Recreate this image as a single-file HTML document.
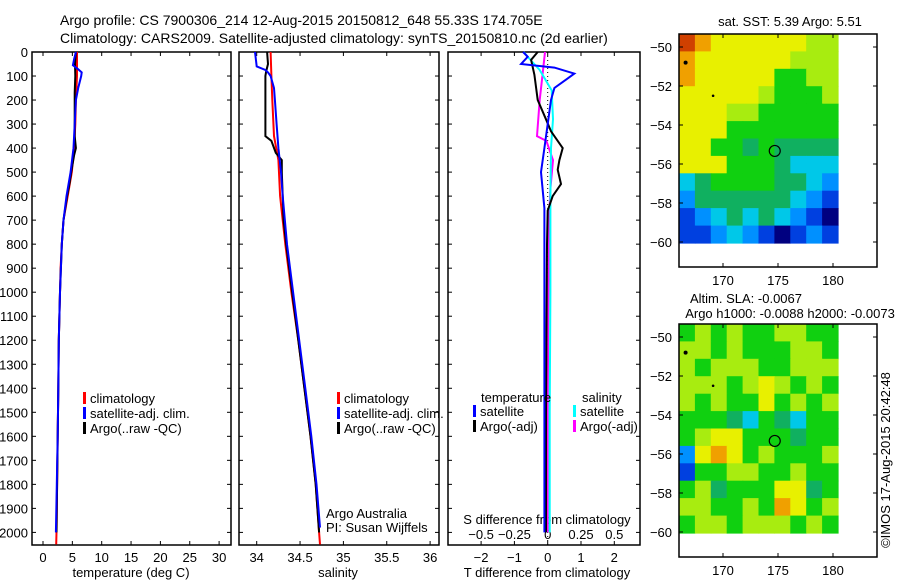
<!DOCTYPE html>
<html><head><meta charset="utf-8"><style>
html,body{margin:0;padding:0;background:#fff;}
svg{display:block;font-family:"Liberation Sans",sans-serif;}
text{font-size:13px;fill:#000;}
</style></head><body>
<svg id="fig" width="900" height="580" viewBox="0 0 900 580" xmlns="http://www.w3.org/2000/svg">
<text x="60" y="25" style="font-size:14px">Argo profile: CS 7900306_214 12-Aug-2015 20150812_648 55.33S 174.705E</text>
<text x="60" y="43" style="font-size:14px">Climatology: CARS2009. Satellite-adjusted climatology: synTS_20150810.nc (2d earlier)</text>
<g id="g"></g>
</svg>
<script>
// ---- profile data (depth in m) ----
const tClimD = [0,100,200,300,400,500,600,700,800,900,1000,1200,1400,1600,1800,2000,2050];
const tClimV = [5.8,5.8,5.6,5.5,5.3,4.9,4.2,3.5,3.2,3.0,2.9,2.7,2.6,2.5,2.4,2.3,2.25];
const tSatD = [0,30,55,70,85,100,150,200,300,400,500,600,700,800,1000,1200,1400,1600,1800,2000];
const tSatV = [5.6,5.3,5.1,5.9,6.6,6.5,6.0,5.6,5.4,5.2,4.7,4.0,3.5,3.2,2.9,2.7,2.6,2.5,2.35,2.2];
const tArgoD = [0,50,100,170,250,350,400,430,500,550,600,700,800,1000,1200,1400,1600,1800,2000];
const tArgoV = [5.6,5.45,5.5,5.4,5.4,5.4,5.6,5.3,4.8,4.5,4.1,3.5,3.2,2.9,2.7,2.6,2.5,2.4,2.3];
const sClimD = [0,100,200,350,450,600,800,1000,1200,1400,1600,1800,2000,2050];
const sClimV = [34.16,34.17,34.18,34.2,34.25,34.27,34.33,34.4,34.48,34.55,34.62,34.68,34.72,34.73];
const sSatD = [0,60,75,85,100,150,200,300,400,500,600,800,1000,1200,1400,1600,1800,1980];
const sSatV = [33.98,34.0,34.1,34.13,34.16,34.2,34.21,34.23,34.25,34.28,34.30,34.35,34.42,34.49,34.56,34.63,34.69,34.73];
const sArgoD = [0,50,80,100,350,370,420,450,500,600,700,800,1000,1200,1400,1600,1800,2000];
const sArgoV = [34.12,34.13,34.11,34.10,34.10,34.17,34.22,34.29,34.29,34.30,34.31,34.34,34.41,34.48,34.55,34.62,34.68,34.72];
// differences
const dTSatD = [0,20,50,65,90,110,150,200,300,400,500,650,1000,1500,2000];
const dTSatV = [-0.74,-0.6,-0.8,0.2,0.8,0.6,0.2,0.1,0.0,-0.1,-0.2,-0.1,-0.1,-0.1,-0.1];
const dTArgoD = [0,33,95,200,280,330,400,450,490,550,600,660,800,1000,1500,2000];
const dTArgoV = [-0.3,-0.5,-0.4,-0.3,-0.05,0.1,0.45,0.35,0.3,0.4,0.15,0.0,-0.02,-0.03,-0.05,-0.05];
const dSArgoD = [0,100,200,350,370,450,570,700,1000,1500,2000];
const dSArgoV = [-0.02,-0.04,-0.06,-0.08,-0.01,0.04,0.02,0.01,0.005,0.0,0.0];
const dSSatD = [0,33,75,160,280,400,600,1000,1500,2000];
const dSSatV = [-0.18,-0.13,-0.06,0.03,0.04,0.025,0.02,0.02,0.015,0.015];
// tick labels
const depthTicks = [0,100,200,300,400,500,600,700,800,900,1000,1100,1200,1300,1400,1500,1600,1700,1800,1900,2000];
const tTicks = [0,5,10,15,20,25,30];
const sTicks = [34,34.5,35,35.5,36];
const dTTicks = [-2,-1,0,1,2];
const dSTicks = [-0.5,-0.25,0,0.25,0.5];
const latTicks = [-50,-52,-54,-56,-58,-60];
const lonTicks = [170,175,180];
// map grids (colour class 0..9), rows north->south
const sstGrid = [
[9,8,7,7,7,7,7,7,6,6],[8,7,7,7,7,7,7,6,6,6],[8,7,7,7,7,7,5,5,6,6],[7,7,7,7,7,6,5,5,5,6],
[7,7,7,6,6,5,5,5,5,5],[7,7,7,5,5,5,5,5,5,5],[7,7,5,5,4,5,4,4,4,4],[7,7,7,5,5,5,4,3,3,3],
[3,4,5,5,5,5,4,4,3,2],[2,4,4,4,4,4,4,3,2,1],[1,2,3,4,3,4,3,2,1,0],[1,1,2,3,2,1,0,1,2,1]];
const slaGrid = [
[5,6,5,6,5,5,6,6,5,5],[6,6,5,6,5,5,5,6,6,5],[6,5,6,6,6,5,5,6,6,6],[6,6,6,5,6,7,6,5,6,5],
[6,5,6,5,5,7,5,6,5,6],[5,5,5,4,3,5,4,3,5,5],[5,6,7,7,5,5,5,4,5,5],[2,7,8,7,5,6,5,5,5,6],
[1,5,5,6,6,5,5,6,5,5],[5,6,4,5,5,5,7,7,4,5],[6,6,5,5,6,5,8,7,5,6],[5,6,6,5,6,6,6,5,6,5]];
const palette = ['#000080','#0040e0','#0090ff','#00c8e8','#10b060','#10d010','#a8ec10','#e8f000','#f0a000','#d04000'];
const argoLon = 174.705, argoLat = -55.33;

const NS='http://www.w3.org/2000/svg';
const G=document.getElementById('g');
function el(t,a,p){const e=document.createElementNS(NS,t);for(const k in a)e.setAttribute(k,a[k]);(p||G).appendChild(e);return e;}
function txt(x,y,s,anchor,size){const e=el('text',{x:x,y:y,'text-anchor':anchor||'start'});if(size)e.style.fontSize=size+'px';e.textContent=s;return e;}
const Y0=52,Y1=545;
const yD=d=>Y0+d*0.2402;
function panel(x0,x1,name){const r=el('rect',{x:x0,y:Y0,width:x1-x0,height:Y1-Y0,fill:'none',stroke:'#000','stroke-width':1.5});

}
function line(D,V,fx,color,name,w){const pts=D.map((d,i)=>fx(V[i]).toFixed(1)+','+yD(d).toFixed(1)).join(' ');
const p=el('polyline',{points:pts,fill:'none',stroke:color,'stroke-width':w||2});

}
function legend(x,y,color,label,name){const r=el('rect',{x:x,y:y-6,width:3,height:12,fill:color});


const t=txt(x+7,y+5,label);

}

// panel geometry
const xT=v=>43+v*5.87, xS=v=>256.7+(v-34)*86.7, xdT=v=>547.7+v*33.3, xdS=v=>547.7+v*4*33.3;
// depth axis labels
depthTicks.forEach(d=>{const t=txt(28,yD(d)+5,String(d),'end');


[32,239,448].forEach(x=>el('line',{x1:x,y1:yD(d),x2:x+4,y2:yD(d),stroke:'#000'}));
[231,439,640].forEach(x=>el('line',{x1:x,y1:yD(d),x2:x-4,y2:yD(d),stroke:'#000'}));});

// panel 1
panel(32,231,'temperature-panel');
tTicks.forEach(v=>{const x=xT(v);el('line',{x1:x,y1:Y1,x2:x,y2:Y1-4,stroke:'#000'});el('line',{x1:x,y1:Y0,x2:x,y2:Y0+4,stroke:'#000'});
const t=txt(x,562,String(v),'middle');

});
let t1=txt(131,577,'temperature (deg C)','middle');


line(tClimD,tClimV,xT,'#f00','temperature-climatology-line');
line(tArgoD,tArgoV,xT,'#000','temperature-argo-line');
line(tSatD,tSatV,xT,'#00f','temperature-satellite-line');
legend(83,398,'#f00','climatology','legend-climatology-t');
legend(83,413,'#00f','satellite-adj. clim.','legend-satellite-t');
legend(83,428,'#000','Argo(..raw -QC)','legend-argo-t');

// panel 2
panel(239,439,'salinity-panel');
sTicks.forEach(v=>{const x=xS(v);el('line',{x1:x,y1:Y1,x2:x,y2:Y1-4,stroke:'#000'});el('line',{x1:x,y1:Y0,x2:x,y2:Y0+4,stroke:'#000'});
const t=txt(x,562,String(v),'middle');

});
let t2=txt(338,577,'salinity','middle');


line(sClimD,sClimV,xS,'#f00','salinity-climatology-line');
line(sArgoD,sArgoV,xS,'#000','salinity-argo-line');
line(sSatD,sSatV,xS,'#00f','salinity-satellite-line');
legend(337,398,'#f00','climatology','legend-climatology-s');
legend(337,413,'#00f','satellite-adj. clim.','legend-satellite-s');
legend(337,428,'#000','Argo(..raw -QC)','legend-argo-s');
let a1=txt(326,518,'Argo Australia');
let a2=txt(326,532,'PI: Susan Wijffels');

// panel 3
panel(448,640,'difference-panel');
dTTicks.forEach(v=>{const x=xdT(v);el('line',{x1:x,y1:Y1,x2:x,y2:Y1-4,stroke:'#000'});el('line',{x1:x,y1:Y0,x2:x,y2:Y0+4,stroke:'#000'});
const t=txt(x,562,(v<0?'\u2212':'')+Math.abs(v),'middle');

});
dSTicks.forEach(v=>{const t=txt(xdS(v),539,(v<0?'\u2212':'')+Math.abs(v),'middle');

});
let t3=txt(547,577,'T difference from climatology','middle');
let t4=txt(547,524,'S difference from climatology','middle');
el('line',{x1:xdT(0),y1:Y0,x2:xdT(0),y2:Y1,stroke:'#000','stroke-dasharray':'1,3'});
line(dSArgoD,dSArgoV,xdS,'#f0f','s-argo-difference-line');
line(dSSatD,dSSatV,xdS,'#0ff','s-satellite-difference-line');
line(dTArgoD,dTArgoV,xdT,'#000','t-argo-difference-line');
line(dTSatD,dTSatV,xdT,'#00f','t-satellite-difference-line');
let lt=txt(481,402,'temperature');
let ls=txt(582,402,'salinity');
legend(473,411,'#00f','satellite','legend-t-satellite');
legend(473,426,'#000','Argo(-adj)','legend-t-argo');
legend(573,411,'#0ff','satellite','legend-s-satellite');
legend(573,426,'#f0f','Argo(-adj)','legend-s-argo');

// maps
function map(top,grid,name){
 const ax0=679,ax1=877,ay0=top,ay1=top+233;
 const lonX=l=>679+(l-166)*11, latY=l=>top+13+(-50-l)*19.5;
 const gx0=679,gx1=838,gy0=top,gy1=latY(-60.05);
 const cw=(gx1-gx0)/grid[0].length, ch=(gy1-gy0)/grid.length;
 const mg=el('g',{});
 
 
 grid.forEach((row,r)=>row.forEach((v,c)=>{el('rect',{x:(gx0+c*cw).toFixed(1),y:(gy0+r*ch).toFixed(1),width:(cw+0.6).toFixed(1),height:(ch+0.6).toFixed(1),fill:palette[v]},mg);}));
 el('rect',{x:ax0,y:ay0,width:ax1-ax0,height:ay1-ay0,fill:'none',stroke:'#000','stroke-width':1.5});
 latTicks.forEach(l=>{const y=latY(l);el('line',{x1:ax0,y1:y,x2:ax0+4,y2:y,stroke:'#000'});el('line',{x1:ax1,y1:y,x2:ax1-4,y2:y,stroke:'#000'});
  const t=txt(672,y+5,'\u2212'+Math.abs(l),'end');
  
  });
 lonTicks.forEach(l=>{const x=lonX(l);el('line',{x1:x,y1:ay0,x2:x,y2:ay0+4,stroke:'#000'});el('line',{x1:x,y1:ay1,x2:x,y2:ay1-4,stroke:'#000'});
  const t=txt(x,ay1+18,String(l),'middle');
  
  });
 const c=el('circle',{cx:lonX(argoLon),cy:latY(argoLat),r:5.5,fill:'none',stroke:'#000','stroke-width':1.2});
 
 
 el('circle',{cx:lonX(166.6),cy:latY(-50.8),r:2,fill:'#000'});
 el('circle',{cx:lonX(169.1),cy:latY(-52.5),r:1.3,fill:'#000'});
}
map(34,sstGrid,'sst-map');
map(324,slaGrid,'sla-map');
let m1=txt(790,26,'sat. SST: 5.39 Argo: 5.51','middle');
let m2=txt(746,303,'Altim. SLA: -0.0067','middle');
let m3=txt(790,318,'Argo h1000: -0.0088 h2000: -0.0073','middle');
let cp=txt(0,0,'\u00a9IMOS 17-Aug-2015 20:42:48','middle');
cp.setAttribute('transform','translate(890,460) rotate(-90)');


</script>
</body></html>
